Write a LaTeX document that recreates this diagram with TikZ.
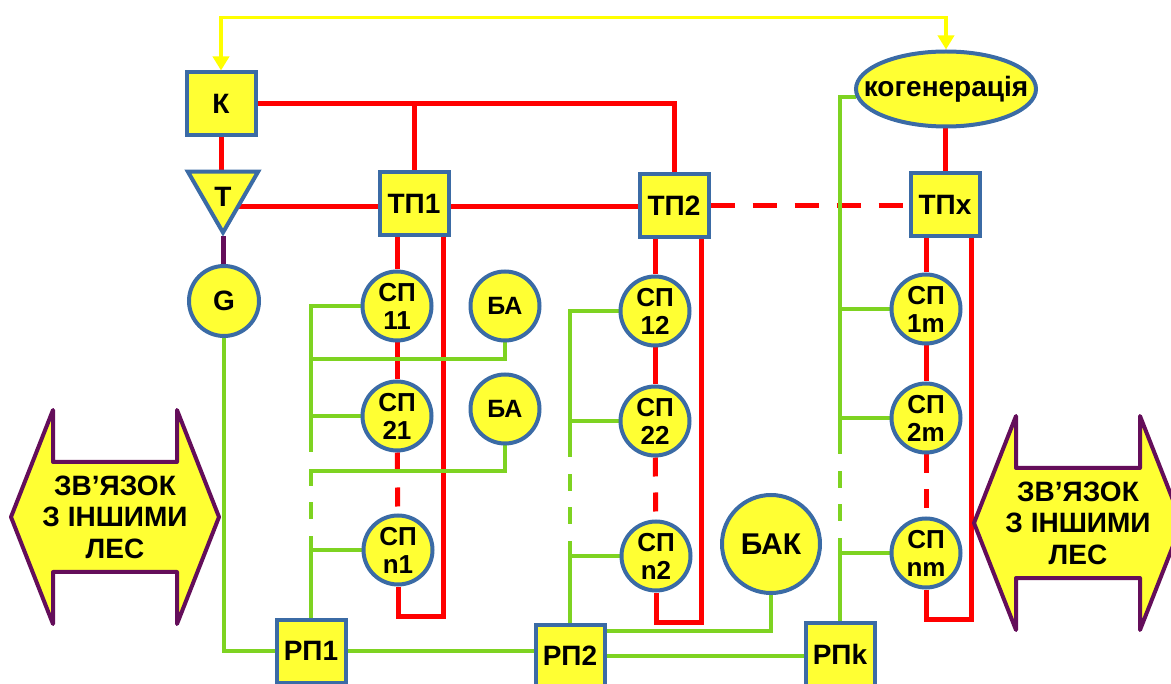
\documentclass[tikz,border=0pt]{standalone}
\usepackage{fontspec}
\setmainfont{Liberation Sans}
\usetikzlibrary{shapes.geometric,arrows.meta,backgrounds,calc}
\definecolor{FigYellow}{HTML}{FFFF33}
\definecolor{FigBlue}{HTML}{3B6BA5}
\definecolor{FigRed}{HTML}{FF0000}
\definecolor{FigGreen}{HTML}{7ED321}
\definecolor{FigPurple}{HTML}{640E5A}
\definecolor{FigLine}{HTML}{FFFF00}
\tikzset{
  unit/.style={draw=FigBlue,fill=FigYellow,line width=4pt,inner sep=0pt,font=\bfseries\fontsize{28}{30}\selectfont},
  sqbox/.style={unit,rectangle,minimum width=69pt,minimum height=63pt},
  sp/.style={unit,circle,minimum size=69pt,align=center,font=\bfseries\fontsize{26}{28}\selectfont},
  heat/.style={FigRed,line width=5pt},
  power/.style={FigGreen,line width=4pt},
  reddash/.style={heat,dash pattern=on 19pt off 16pt},
  busdash/.style={power,dash pattern=on 17pt off 16pt},
  feed/.style={FigLine,line width=3.5pt,>={Triangle[width=16pt,length=14pt]},<->},
  link/.style={draw=FigPurple,fill=FigYellow,line width=4pt,line join=round},
  linktext/.style={align=center,font=\bfseries\fontsize{28}{31.5}\selectfont},
}
\begin{document}
\begin{tikzpicture}[x=1pt,y=-1pt]
  \useasboundingbox (0,0) rectangle (1171,684);
  % sources and substations
  \node[sqbox] (K) at (221,104) {К};
  \node[unit,regular polygon,regular polygon sides=3,shape border rotate=180,minimum size=81pt] (T) at (223,192) {\raisebox{-15pt}[0pt][0pt]{Т}};
  \node[unit,circle,minimum size=70pt] (G) at (224,301) {G};
  \node[unit,ellipse,minimum width=180pt,minimum height=75pt] (cog) at (946,89) {\makebox[0pt]{когенерація}};
  \node[sqbox] (TP1) at (414,204) {ТП1};
  \node[sqbox] (TP2) at (674,206) {ТП2};
  \node[sqbox] (TPx) at (945,205) {ТПx};
  \foreach \n/\x/\y/\t in {SP11/397/306/11,SP21/397/416/21,SPn1/398/550/n1,SP12/655/311/12,SP22/655/421/22,SPn2/656/556/n2,SP1m/926/309/1m,SP2m/926/418/2m,SPnm/926/553/nm}
    \node[sp] (\n) at (\x,\y) {СП\\\t};
  \node[sp,font=\bfseries\fontsize{25}{28}\selectfont] (BA1) at (505,306) {БА};
  \node[sp,font=\bfseries\fontsize{25}{28}\selectfont] (BA2) at (505,409) {БА};
  \node[sp,minimum size=98pt,font=\bfseries\fontsize{30}{32}\selectfont] (BAK) at (771,544) {БАК};
  \node[sqbox] (RP1) at (311,651) {РП1};
  \node[sqbox] (RP2) at (570,656) {РП2};
  \node[sqbox] (RPk) at (840,654) {РПk};
  % links to other grids
  \foreach \s/\cx/\cy in {L/115/517,R/1078/523}{
    \draw[link] (\cx,\cy) ++(-104,0) -- ++(42,-107) -- ++(0,52) -- ++(124,0) -- ++(0,-52) -- ++(42,107) -- ++(-42,107) -- ++(0,-52) -- ++(-124,0) -- ++(0,52) -- cycle;
    \node[linktext] (link\s) at (\cx,\cy) {ЗВ’ЯЗОК\\З ІНШИМИ\\ЛЕС};
  }
  \draw[feed] (K.north) -- ++(0,-53) -| (cog.north);
  \begin{scope}[on background layer]
    % heat network
    \draw[heat] (K.south) -- (K.south |- T.north);
    \draw[FigPurple,line width=5pt] (T.south) -- (T.south |- G.north);
    \draw[heat] (K.east) -| (TP2.north);
    \draw[heat] (TP1.north) -- (TP1.north |- K.east);
    \draw[heat] ([yshift=-3pt]TP1.west) -- ([yshift=-3pt]TP1.west -| T.center);
    \draw[heat] ([yshift=-3pt]TP1.east) -- ([yshift=-3pt]TP1.east -| TP2.west);
    \draw[heat,dash pattern=on 24pt off 18pt] (TP2.east) -- (TP2.east -| TPx.west);
    \draw[heat] (TPx.north) -- (TPx.north |- cog.south);
    \foreach \tp/\c/\dx in {TP1/1/7,TP2/2/9,TPx/m/10}{
      \draw[heat] (SP1\c.north) -- (SP1\c.north |- \tp.south);
      \draw[heat] (SP1\c) -- (SP2\c);
      \draw[reddash] (SP2\c) -- (SPn\c);
      \draw[heat] (SPn\c.south) -- ++(0,30) -| ([xshift=-\dx pt]\tp.south east);
    }
    % power network
    \draw[power] (G.south) |- (RP1.west);
    \draw[power] (RP1.east) -- (RP1.east -| RP2.west);
    \draw[power] (RP2.east) -- (RP2.east -| RPk.west);
    \draw[power] (BAK.south) |- ([yshift=-8pt]RP2.north east);
    \draw[power] (BA1.south) |- ([yshift=-17pt]SP11.south -| RP1.north);
    \draw[power] (BA2.south) |- ([yshift=-19pt]SP21.south -| RP1.north);
    \draw[power] (cog.185) -| (SP2m.south -| RPk.north);
    \draw[power] (SP1m.west) -- (SP1m.west -| RPk.north);
    \foreach \rp/\c in {RP1/1,RP2/2}
      \draw[power] (SP1\c.west) -| (SP2\c.south -| \rp.north);
    \foreach \rp/\c in {RP1/1,RP2/2,RPk/m}{
      \draw[power] (SP2\c.west) -- (SP2\c.west -| \rp.north);
      \draw[power] (SPn\c.west) -- (SPn\c.west -| \rp.north);
      \draw[busdash] ([yshift=-17pt]SP2\c.south -| \rp.north) -- ([yshift=-68pt]SP2\c.south -| \rp.north);
      \draw[power] (\rp.north) -- ([yshift=-84pt]SP2\c.south -| \rp.north);
    }
  \end{scope}
\end{tikzpicture}
\end{document}
